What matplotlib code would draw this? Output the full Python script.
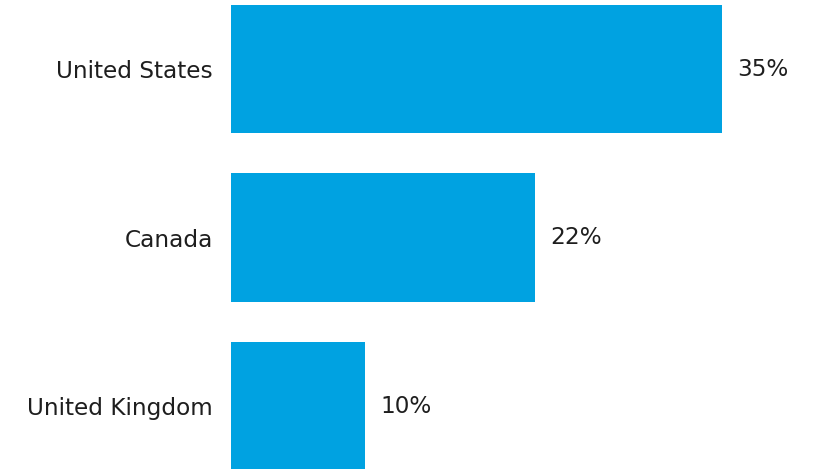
import matplotlib.pyplot as plt
import numpy as np

# shares by country (percent)
countries = ['United States', 'Canada', 'United Kingdom']
shares = [35.05, 21.7, 9.6]

bar_color = '#00A2E1'
text_color = '#1e1e1e'

fig = plt.figure(figsize=(8.25, 4.69), dpi=100)
# axes cover the whole figure on the right of the labels, bars get cut at top/bottom
ax = fig.add_axes([231 / 825, 0, 1 - 231 / 825, 1])

y = np.arange(len(countries))
ax.barh(y, shares, height=0.76, color=bar_color)

for yi, v in zip(y, shares):
    ax.text(v + 15 / 14, yi, f'{v:.0f}%', va='center', ha='left',
            fontsize=16.7, color=text_color)

# 14 px per percent, first bar centre 69 px from the top, 168.5 px pitch
ax.set_xlim(0, (825 - 231) / 14)
ax.set_ylim((469 - 69) / 168.5, -69 / 168.5)

ax.set_yticks(y)
ax.set_yticklabels(countries, fontsize=16.7, color=text_color)
ax.tick_params(axis='y', length=0, pad=13)
ax.set_xticks([])
for s in ax.spines.values():
    s.set_visible(False)

plt.savefig('out.png', dpi=100)
